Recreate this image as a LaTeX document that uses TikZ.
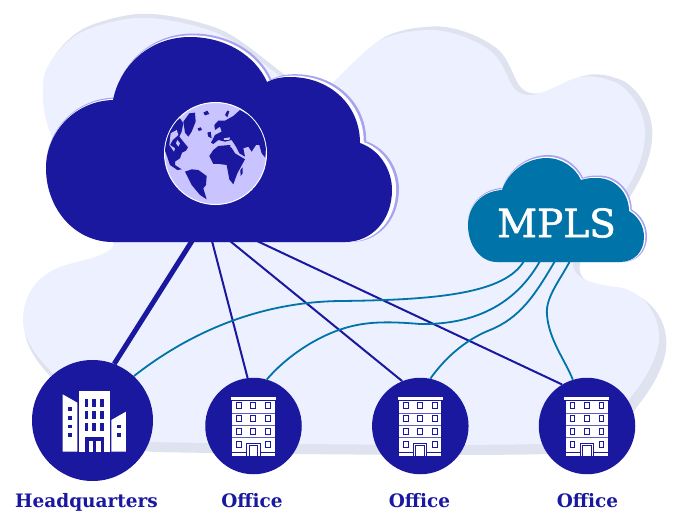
\documentclass[tikz,border=0pt]{standalone}
\usepackage{fontspec}
\setmainfont{DejaVu Serif}
\newfontfamily\mplsfont[FakeBold=1.5]{DejaVu Serif}
\definecolor{navy}{HTML}{1A189F}
\definecolor{tealc}{HTML}{0073A8}
\definecolor{blobc}{HTML}{EDF0FE}
\definecolor{shadowc}{HTML}{DFE3F0}
\definecolor{lilac}{HTML}{A9A3EF}
\definecolor{globec}{HTML}{C9C3FF}
\tikzset{
  sitehq/.style={circle,fill=navy,minimum size=121pt,inner sep=0pt},
  siteoffice/.style={circle,fill=navy,minimum size=96.5pt,inner sep=0pt},
  sitelabel/.style={text=navy,anchor=base,inner sep=0pt,font=\bfseries\fontsize{18.5}{18.5}\selectfont},
  navyline/.style={draw=navy,line width=2pt},
  tealline/.style={draw=tealc,line width=1.8pt},
}
\newcommand{\blobpath}{(43,100) .. controls (42,80) and (44,72) .. (50,63) .. controls (58,50) and (68,40) .. (80,33) .. controls (92,26) and (128,16) .. (147,18) .. controls (165,18) and (200,26) .. (217,33) .. controls (240,42) and (275,75) .. (300,90) .. controls (310,95) and (318,96) .. (325,90) .. controls (335,82) and (362,52) .. (377,42) .. controls (392,33) and (415,30) .. (433,30) .. controls (455,31) and (480,42) .. (493,53) .. controls (503,62) and (507,78) .. (513,87) .. controls (518,93) and (522,95) .. (530,95) .. controls (545,95) and (565,80) .. (577,78) .. controls (590,74) and (605,78) .. (617,83) .. controls (632,92) and (645,112) .. (645,133) .. controls (645,165) and (625,195) .. (600,225) .. controls (590,238) and (572,250) .. (573,265) .. controls (574,278) and (590,284) .. (617,287) .. controls (640,290) and (658,310) .. (659,335) .. controls (660,355) and (645,380) .. (630,398) .. controls (615,420) and (605,438) .. (540,444) .. controls (480,446) and (250,444) .. (150,442) .. controls (115,438) and (70,395) .. (50,370) .. controls (38,358) and (23,340) .. (23,320) .. controls (23,295) and (38,278) .. (50,272) .. controls (65,262) and (88,262) .. (107,252) .. controls (113,248) and (115,245) .. (113,242) .. controls (100,220) and (45,150) .. (43,100) -- cycle}
\newcommand{\bigcloud}{(113,242) .. controls (74,242) and (46,208) .. (46,168) .. controls (46,132) and (75,101) .. (113,100) .. controls (120,65) and (150,37) .. (190,37) .. controls (225,37) and (255,55) .. (267,82) .. controls (275,78) and (282,77) .. (290,77) .. controls (330,77) and (360,105) .. (360,143) .. controls (380,150) and (392,170) .. (392,190) .. controls (392,220) and (372,242) .. (345,242) -- cycle}
\newcommand{\smallcloud}{(497,262) .. controls (480,262) and (468,245) .. (468,225) .. controls (468,206) and (482,191) .. (502,190) .. controls (508,172) and (526,158) .. (547,158) .. controls (561,158) and (575,167) .. (581,180) .. controls (587,178) and (592,178) .. (597,178) .. controls (615,178) and (629,193) .. (629,211) .. controls (638,216) and (644,226) .. (644,237) .. controls (644,252) and (634,262) .. (620,262) -- cycle}
\begin{document}
\begin{tikzpicture}[x=1pt,y=-1pt]
\useasboundingbox (0,0) rectangle (700,529);
\fill[white] (0,0) rectangle (700,529);
% background blob
\fill[shadowc,shift={(1.2,-4.6)},xscale=1.0094,yscale=1.033] \blobpath;
\fill[blobc] \blobpath;
% big cloud
\fill[lilac,shift={(-0.92,-4.1)},xscale=1.02,yscale=1.017] \bigcloud;
\fill[white,shift={(-0.55,-1.94)},xscale=1.012,yscale=1.008] \bigcloud;
\fill[navy] \bigcloud;
% small cloud
\fill[lilac,shift={(-7.96,-7.6)},xscale=1.017,yscale=1.029] \smallcloud;
\fill[white,shift={(-3.74,-3.14)},xscale=1.008,yscale=1.012] \smallcloud;
\fill[tealc] \smallcloud;
\node[text=white,font=\mplsfont\fontsize{39}{39}\selectfont] (mpls) at (556.5,223) {MPLS};
% globe
\node[circle,fill=globec,draw=white,line width=1pt,minimum size=102pt,inner sep=0pt] (globe) at (215.5,153.5) {};
\begin{scope}
\clip (215.5,153.5) circle (50.5);
\begin{scope}[shift={(150,90)},x=0.3333pt,y=-0.3333pt]
\fill[navy] (90,85) -- (100,100) -- (95,125) -- (88,140) -- (100,155) -- (114,172) -- (108,182) -- (96,188) -- (90,205) -- (75,215) -- (75,225) -- (95,238) -- (82,240) -- (60,225) -- (48,190) -- (40,170) -- (50,130) -- (72,100) -- cycle;
\fill[globec] (62,130) -- (80,120) -- (85,135) -- (68,150) -- (60,165) -- (75,175) -- (72,185) -- (58,165) -- cycle;
\fill[globec] (82,150) -- (90,160) -- (85,170) -- (78,160) -- cycle;
\fill[navy] (118,70) -- (135,68) -- (137,95) -- (125,125) -- (115,140) -- (105,128) -- (100,95) -- cycle;
\fill[navy] (105,245) -- (125,238) -- (145,240) -- (170,258) -- (168,285) -- (160,295) -- (170,328) -- (150,315) -- (125,285) -- cycle;
\fill[navy] (178,198) -- (190,180) -- (205,168) -- (240,165) -- (255,190) -- (285,208) -- (262,250) -- (250,283) -- (238,268) -- (230,225) -- (208,222) -- (190,222) -- cycle;
\fill[navy] (270,60) -- (320,90) -- (345,140) -- (348,170) -- (346,203) -- (335,190) -- (328,165) -- (318,165) -- (305,185) -- (295,170) -- (280,175) -- (285,200) -- (268,190) -- (258,170) -- (245,150) -- (225,155) -- (205,150) -- (190,162) -- (183,158) -- (195,135) -- (215,125) -- (210,110) -- (195,120) -- (193,105) -- (205,92) -- (225,92) -- (250,78) -- cycle;
\fill[navy] (172,128) -- (182,125) -- (185,145) -- (175,140) -- cycle;
\fill[navy] (160,68) -- (172,62) -- (178,72) -- (165,76) -- cycle;
\fill[navy] (143,115) -- (152,112) -- (156,120) -- (146,123) -- cycle;
\fill[navy] (225,75) -- (232,62) -- (238,64) -- (232,82) -- cycle;
\fill[navy] (271,240) -- (278,232) -- (278,250) -- (272,258) -- cycle;
\fill[globec] (222,145) -- (240,142) -- (238,150) -- (222,150) -- cycle;
\draw[globec,line width=0.5pt] (240,168) -- (275,200);
\end{scope}
\end{scope}
% sites
\node[sitehq] (hq) at (92.5,420.5) {};
\node[siteoffice] (off1) at (253.5,426) {};
\node[siteoffice] (off2) at (420.3,426) {};
\node[siteoffice] (off3) at (587,426) {};
\node[sitelabel] (lhq) at (86.5,507) {Headquarters};
\node[sitelabel] (l1) at (252,507) {Office};
\node[sitelabel] (l2) at (419.5,507) {Office};
\node[sitelabel] (l3) at (587.5,507) {Office};
% HQ icon
\begin{scope}[shift={(0,350)},x=0.3333pt,y=-0.3333pt]
\fill[white] (188,133) -- (232,158) -- (232,305) -- (188,305) -- cycle;
\fill[white] (237,123) rectangle (330,305);
\fill[white] (334,210) -- (378,185) -- (378,305) -- (334,305) -- cycle;
\foreach \wx in {254,277,300} \foreach \wy in {146,182,219} \fill[navy] (\wx,\wy) rectangle +(11,25);
\foreach \wy in {172,198,224,250} \fill[navy] (204,\wy) rectangle +(11,11);
\foreach \wy in {224,250} \fill[navy] (351,\wy) rectangle +(11,11);
\fill[navy] (254,262) rectangle (313,305);
\fill[white] (266,273) rectangle (279,305);
\fill[white] (289,273) rectangle (302,305);
\end{scope}
% office icons
\foreach \dx in {0,166.7,333.5} {
\begin{scope}[shift={(\dx,350)},x=0.3333pt,y=-0.3333pt]
\fill[white] (693,141) rectangle (828,149);
\fill[white] (697,153) rectangle (824,317);
\foreach \ly in {188,224,261} \fill[navy!70!white] (697,\ly) rectangle (824,\ly+3);
\fill[navy] (697,306) rectangle (824,309);
\foreach \wx in {717,760,804} \foreach \wy in {168,206,244}
  \draw[navy,line width=1pt,fill=white] (\wx-7,\wy-9) rectangle (\wx+7,\wy+9);
\foreach \wx in {717,804}
  \draw[navy,line width=1pt,fill=white] (\wx-7,274) rectangle (\wx+7,292);
\fill[navy] (739,279) rectangle (782,317);
\fill[white] (742,282) rectangle (779,317);
\fill[navy] (746,285) rectangle (775,317);
\fill[white] (749,288) rectangle (772,317);
\end{scope}
}
% connectors
\coordinate (a0) at (192,241);
\coordinate (a1) at (212,241);
\coordinate (a2) at (230,241);
\coordinate (a3) at (257,241);
\coordinate (b0) at (524,261);
\coordinate (b1) at (540,261);
\coordinate (b2) at (555,261);
\coordinate (b3) at (570,261);
\draw[draw=navy,line width=5pt] (a0) -- (hq.69);
\draw[navyline] (a1) -- (off1.97);
\draw[navyline] (a2) -- (off2.112);
\draw[navyline] (a3) -- (off3.121);
\draw[tealline] (b0) .. controls (505,293) and (440,300) .. (340,301) .. controls (260,302) and (190,332) .. (hq.47);
\draw[tealline] (b1) .. controls (518,300) and (480,325) .. (420,324) .. controls (385,321) and (365,322) .. (345,328) .. controls (315,337) and (285,358) .. (off1.74);
\draw[tealline] (b2) .. controls (535,295) and (520,318) .. (490,330) .. controls (465,340) and (445,358) .. (off2.78);
\draw[tealline] (b3) .. controls (560,280) and (545,298) .. (547,315) .. controls (549,340) and (565,360) .. (off3.107);
\end{tikzpicture}
\end{document}
